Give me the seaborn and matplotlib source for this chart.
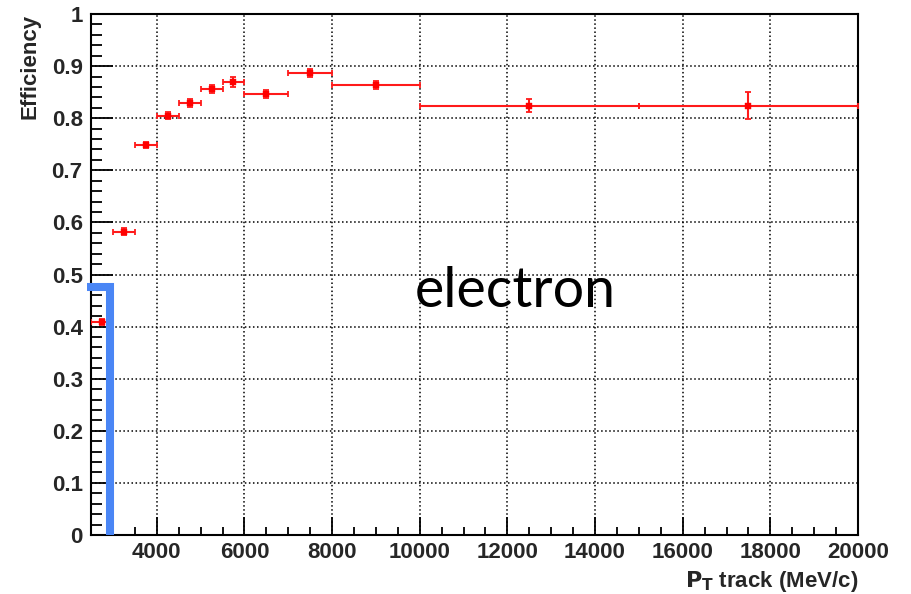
import numpy as np
import pandas as pd
import matplotlib
matplotlib.use("Agg")
import matplotlib.pyplot as plt
import seaborn as sns
from matplotlib.ticker import MultipleLocator, FixedLocator

# ---- data ----
bin_lo = [2500, 3000, 3500, 4000, 4500, 5000, 5500, 6000, 7000, 8000, 10000, 15000]
bin_hi = [3000, 3500, 4000, 4500, 5000, 5500, 6000, 7000, 8000, 10000, 15000, 20000]
efficiency = [0.409, 0.582, 0.749, 0.805, 0.829, 0.856, 0.869, 0.846, 0.887, 0.864, 0.824, 0.824]
eff_err = [0.006, 0.007, 0.006, 0.006, 0.007, 0.007, 0.010, 0.008, 0.008, 0.008, 0.012, 0.026]
x_ticks = [4000, 6000, 8000, 10000, 12000, 14000, 16000, 18000, 20000]
y_ticks = [0, 0.1, 0.2, 0.3, 0.4, 0.5, 0.6, 0.7, 0.8, 0.9, 1]
y_labels = ["0", "0.1", "0.2", "0.3", "0.4", "0.5", "0.6", "0.7", "0.8", "0.9", "1"]
overlay_x = [2402, 2932, 2932]
overlay_y = [0.476, 0.476, 0.0]

df = pd.DataFrame({
    "lo": bin_lo, "hi": bin_hi, "eff": efficiency, "err": eff_err,
})
df["pt"] = (df["lo"] + df["hi"]) / 2
df["xerr"] = (df["hi"] - df["lo"]) / 2

sns.set_style("ticks")
plt.rcParams["font.family"] = ["Liberation Sans", "DejaVu Sans"]
plt.rcParams["font.weight"] = "bold"

fig = plt.figure(figsize=(9.12, 5.94), dpi=100)
ax = fig.add_axes([0.0998, 0.0993, 0.841, 0.8771])

ax.errorbar(df["pt"], df["eff"], xerr=df["xerr"], yerr=df["err"],
            fmt="none", ecolor="#ff1a1a", elinewidth=1.5, capsize=2.5,
            capthick=1.3, zorder=3)
sns.scatterplot(data=df, x="pt", y="eff", marker="s", s=24, color="#ff0000",
                edgecolor="#ff0000", linewidth=0.3, ax=ax, zorder=4, legend=False)

ax.set_xlim(2500, 20000)
ax.set_ylim(0, 1)
ax.xaxis.set_major_locator(FixedLocator(x_ticks))
ax.yaxis.set_major_locator(FixedLocator(y_ticks))
ax.set_yticklabels(y_labels)
ax.xaxis.set_minor_locator(MultipleLocator(500))
ax.yaxis.set_minor_locator(MultipleLocator(0.02))

ax.grid(True, which="major", linestyle=":", color="black", linewidth=1.1)

for s in ax.spines.values():
    s.set_linewidth(1.5)
    s.set_color("black")

ax.set_xlabel(r"$\mathbf{P_T}$ track (MeV/c)", fontsize=16, fontweight="bold",
              loc="right", labelpad=4)
ax.set_ylabel("Efficiency", fontsize=16, fontweight="bold", loc="top", labelpad=8)

ax.plot(overlay_x, overlay_y, color="#4a86f5", linewidth=5.8, clip_on=False,
        solid_capstyle="butt", solid_joinstyle="miter", zorder=5)

ax.text(9894, 0.4376, "electron", fontsize=40, family=["Lato", "DejaVu Sans"],
        fontweight="normal", ha="left", va="baseline", color="black", zorder=6)

# native ticks (labels only), tick marks drawn from the locators below
ax.tick_params(axis="x", which="both", direction="in", length=0, pad=5,
               labelsize=16, bottom=True, top=False)
ax.tick_params(axis="y", which="both", direction="in", length=0, pad=6,
               labelsize=16, left=True, right=False)

# axes size in pixels, for tick lengths
ax_w_px = 0.841 * 912
ax_h_px = 0.8771 * 594
x_minor = [v for v in ax.xaxis.get_minorticklocs() if 2500 <= v <= 20000]
y_minor = [v for v in ax.yaxis.get_minorticklocs() if 0 <= v <= 1]
xt = ax.get_xaxis_transform()
yt = ax.get_yaxis_transform()
ax.vlines(x_minor, 0, 8 / ax_h_px, transform=xt, colors="black", linewidth=1.3,
          clip_on=False, zorder=2.6)
ax.vlines(x_ticks, 0, 18 / ax_h_px, transform=xt, colors="black", linewidth=1.3,
          clip_on=False, zorder=2.6)
ax.hlines(y_minor, 0, 11 / ax_w_px, transform=yt, colors="black", linewidth=1.3,
          clip_on=False, zorder=2.6)
ax.hlines(y_ticks, 0, 22 / ax_w_px, transform=yt, colors="black", linewidth=1.3,
          clip_on=False, zorder=2.6)

fig.savefig("out.png", dpi=100)
